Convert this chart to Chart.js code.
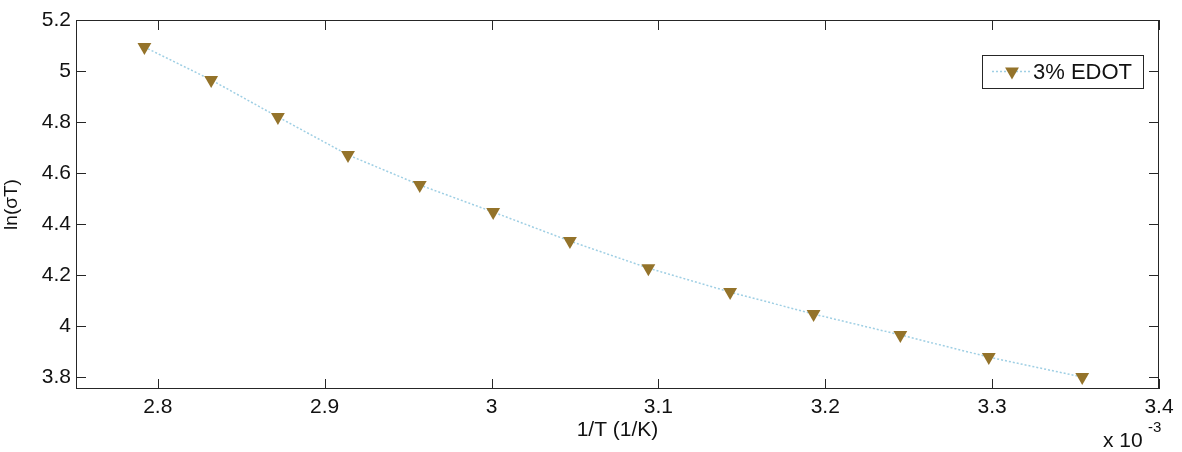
<!DOCTYPE html>
<html>
<head>
<meta charset="utf-8">
<script src="https://cdn.jsdelivr.net/npm/chart.js@4/dist/chart.umd.min.js"></script>
<style>
  html, body { margin: 0; padding: 0; background: #fff; }
  #wrap { width: 1182px; height: 452px; }
</style>
</head>
<body>
<div id="wrap"><canvas id="c" width="1182" height="452"></canvas></div>
<script>
// 1/T in units of 1e-3 1/K
const invT = [2.792, 2.832, 2.872, 2.914, 2.957, 3.001, 3.047, 3.094, 3.143, 3.193, 3.245, 3.298, 3.354];
// ln(sigma*T)
const lnSigmaT = [5.094, 4.965, 4.820, 4.671, 4.553, 4.447, 4.333, 4.227, 4.133, 4.047, 3.965, 3.878, 3.800];
const seriesLabel = "3% EDOT";
const xTicks = [2.8, 2.9, 3.0, 3.1, 3.2, 3.3, 3.4];
const yTicks = [3.8, 4.0, 4.2, 4.4, 4.6, 4.8, 5.0, 5.2];

const FONT = "Liberation Sans, Arial, Helvetica, sans-serif";
const markerColor = "#94732a";
const lineColor = "#9fcfe4";
const axisColor = "#262626";

// box around the plot, inward ticks on all four sides, legend and exponent note
const decorations = {
  id: "decorations",
  afterDraw(chart) {
    const { ctx, chartArea: a, scales: { x, y } } = chart;
    ctx.save();
    ctx.strokeStyle = axisColor;
    ctx.lineWidth = 1;
    ctx.strokeRect(a.left + 0.5, a.top + 0.5, a.width - 1, a.height - 1);

    const tl = 10;
    ctx.beginPath();
    xTicks.forEach(v => {
      const px = Math.round(x.getPixelForValue(v)) + 0.5;
      ctx.moveTo(px, a.bottom); ctx.lineTo(px, a.bottom - tl);
      ctx.moveTo(px, a.top); ctx.lineTo(px, a.top + tl);
    });
    yTicks.forEach(v => {
      const py = Math.round(y.getPixelForValue(v)) + 0.5;
      ctx.moveTo(a.left, py); ctx.lineTo(a.left + tl, py);
      ctx.moveTo(a.right, py); ctx.lineTo(a.right - tl, py);
    });
    ctx.stroke();

    // legend
    const ds = chart.data.datasets[0];
    const bx = 982, by = 55, bw = 161, bh = 33;
    ctx.fillStyle = "#fff";
    ctx.fillRect(bx, by, bw, bh);
    ctx.strokeRect(bx + 0.5, by + 0.5, bw, bh);
    const cy = by + bh / 2;
    ctx.strokeStyle = ds.borderColor;
    ctx.lineWidth = ds.borderWidth;
    ctx.setLineDash(ds.borderDash);
    ctx.beginPath();
    ctx.moveTo(bx + 10, cy); ctx.lineTo(bx + 48, cy);
    ctx.stroke();
    ctx.setLineDash([]);
    ctx.fillStyle = markerColor;
    ctx.beginPath();
    const r = ds.pointRadius;
    ctx.moveTo(bx + 30 - r * 0.866, cy - r / 2);
    ctx.lineTo(bx + 30 + r * 0.866, cy - r / 2);
    ctx.lineTo(bx + 30, cy + r);
    ctx.closePath();
    ctx.fill();
    ctx.fillStyle = "#111";
    ctx.font = "22px " + FONT;
    ctx.textBaseline = "middle";
    ctx.textAlign = "left";
    ctx.fillText(ds.label, bx + 51, cy + 1);

    // x 10^-3
    ctx.font = "21px " + FONT;
    ctx.fillText("x 10", 1103, 441);
    ctx.font = "15px " + FONT;
    ctx.fillText("-3", 1148, 428);
    ctx.restore();
  }
};

new Chart(document.getElementById("c"), {
  type: "scatter",
  data: {
    datasets: [{
      label: seriesLabel,
      data: invT.map((v, i) => ({ x: v, y: lnSigmaT[i] })),
      showLine: true,
      borderColor: lineColor,
      borderWidth: 1.5,
      borderDash: [2, 2],
      pointStyle: "triangle",
      rotation: 180,
      pointRadius: 8,
      pointHoverRadius: 8,
      pointBackgroundColor: markerColor,
      pointBorderColor: markerColor,
      pointBorderWidth: 0
    }]
  },
  options: {
    responsive: false,
    animation: false,
    layout: { padding: { top: 20, right: 23, left: 0, bottom: 0 } },
    plugins: {
      legend: { display: false },
      tooltip: { enabled: false }
    },
    scales: {
      x: {
        type: "linear",
        min: 2.751,
        max: 3.4,
        afterFit: s => { s.height = 63; },
        afterBuildTicks: s => { s.ticks = xTicks.map(v => ({ value: v })); },
        grid: { display: false, drawTicks: false },
        border: { display: false },
        ticks: {
          color: "#111",
          padding: 6,
          font: { family: FONT, size: 21 },
          callback: v => String(+v.toFixed(1))
        },
        title: {
          display: true,
          text: "1/T (1/K)",
          color: "#111",
          font: { family: FONT, size: 21 },
          padding: { top: 0, bottom: 9 }
        }
      },
      y: {
        min: 3.753,
        max: 5.2,
        afterFit: s => { s.width = 76; },
        afterBuildTicks: s => { s.ticks = yTicks.map(v => ({ value: v })); },
        grid: { display: false, drawTicks: false },
        border: { display: false },
        ticks: {
          color: "#111",
          padding: 5,
          font: { family: FONT, size: 21 },
          callback: v => String(+v.toFixed(1))
        },
        title: {
          display: true,
          text: "ln(σT)",
          color: "#111",
          font: { family: FONT, size: 19 },
          padding: { top: 0, bottom: 0 }
        }
      }
    }
  },
  plugins: [decorations]
});
</script>
</body>
</html>
